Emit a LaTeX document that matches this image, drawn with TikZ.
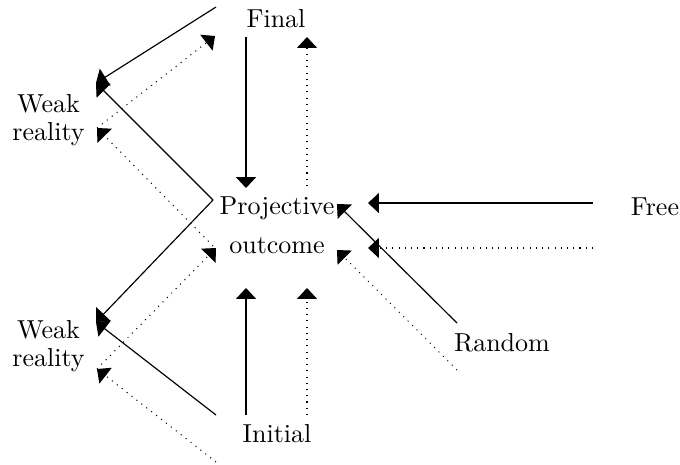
\documentclass[tikz,border=0pt]{standalone}
\usetikzlibrary{arrows.meta}
\begin{document}
\begin{tikzpicture}[x=0.3846pt,y=-0.3846pt,
  lbl/.style={inner sep=0pt,align=center},
  arr/.style={line width=0.45pt,-{Triangle[length=4.2pt,width=7.7pt]}},
  darr/.style={arr,line width=0.4pt,dotted}]
\useasboundingbox (0,0) rectangle (680,464);
% labels
\node[lbl] (final) at (276,19) {Final};
\node[lbl] (weakT) at (48.5,120) {Weak\\[-1.2pt]reality};
\node[lbl] (proj) at (277,225) {Projective\\[3pt]outcome};
\node[lbl] (weakB) at (48.5,346) {Weak\\[-1.2pt]reality};
\node[lbl] (init) at (277,434) {Initial};
\node[lbl] (free) at (655,207) {Free};
\node[lbl] (rand) at (502,343) {Random};
% connector end points
\coordinate (finalS) at (216,7);
\coordinate (finalV) at (246,37);
\coordinate (finalD) at (215,36);
\coordinate (finalDV) at (307,37);
\coordinate (weakTS) at (96,83);
\coordinate (weakTD) at (97,128);
\coordinate (weakBS) at (96,322);
\coordinate (weakBD) at (97,369);
\coordinate (projL) at (213,200);
\coordinate (projV) at (246,188);
\coordinate (projDV) at (307,186);
\coordinate (projLD) at (213,246);
\coordinate (projLD2) at (216,248);
\coordinate (projB) at (246,288);
\coordinate (projDB) at (307,288);
\coordinate (projR) at (368,203);
\coordinate (projRD) at (368,248);
\coordinate (projRR) at (337,204);
\coordinate (projRRD) at (337,250);
\coordinate (initL) at (216,415);
\coordinate (initV) at (246,415);
\coordinate (initDV) at (307,415);
\coordinate (initD) at (216,462);
\coordinate (freeS) at (593,203);
\coordinate (freeD) at (593,248);
\coordinate (randS) at (457,323);
\coordinate (randD) at (457,370);
% solid arrows
\draw[arr] (finalS) -- (weakTS);
\draw[arr] (projL) -- (weakTS);
\draw[arr] (projL) -- (weakBS);
\draw[arr] (initL) -- (weakBS);
\draw[arr] (finalV) -- (projV);
\draw[arr] (initV) -- (projB);
\draw[arr] (freeS) -- (projR);
\draw[arr] (randS) -- (projRR);
% dotted arrows
\draw[darr] (weakTD) -- (finalD);
\draw[darr] (projLD) -- (weakTD);
\draw[darr] (weakBD) -- (projLD2);
\draw[darr] (initD) -- (weakBD);
\draw[darr] (initDV) -- (projDB);
\draw[darr] (projDV) -- (finalDV);
\draw[darr] (freeD) -- (projRD);
\draw[darr] (randD) -- (projRRD);
\end{tikzpicture}
\end{document}
